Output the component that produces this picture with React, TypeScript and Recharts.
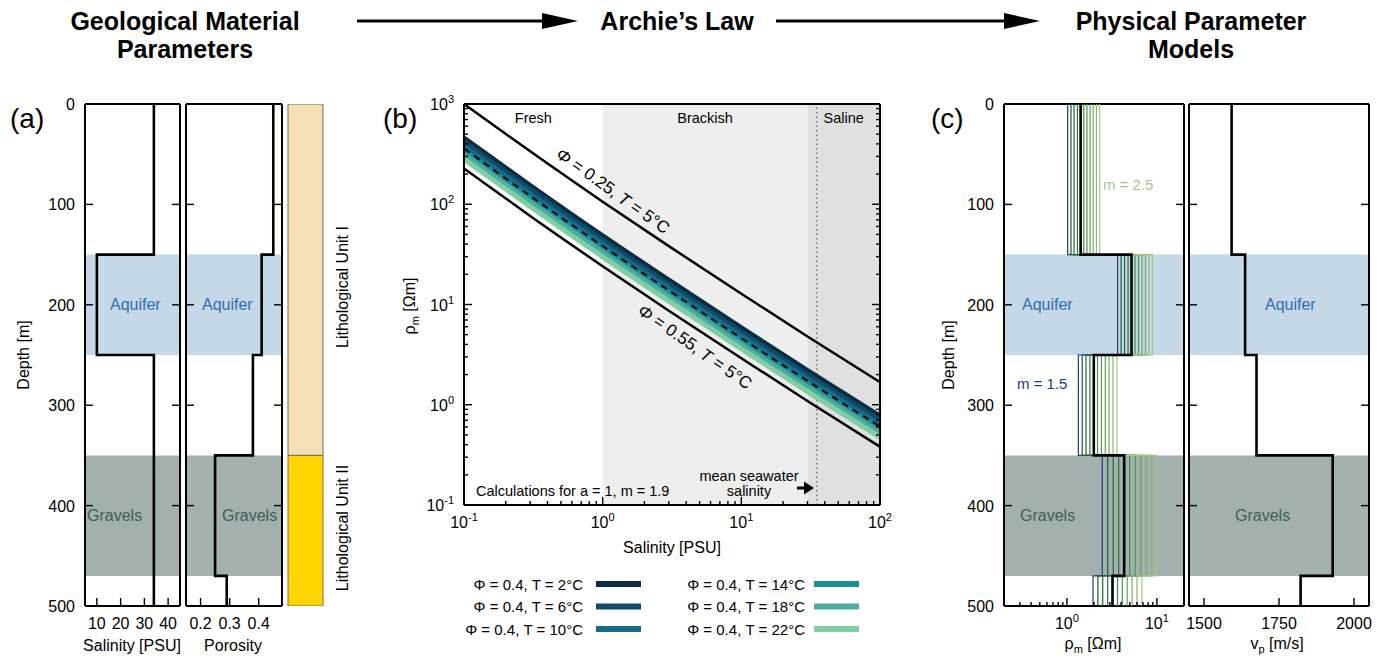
import React from 'react';
import {
  ScatterChart,
  Scatter,
  ComposedChart,
  Line,
  BarChart,
  Bar,
  XAxis,
  YAxis,
  ReferenceArea,
  ReferenceLine,
} from 'recharts';

const FONT = '"Liberation Sans", Arial, Helvetica, sans-serif';
const PAGE_W = 1383;
const PAGE_H = 660;

// ---------------- Layer model (panels a and c) ----------------
const layerTop = [0, 150, 250, 350, 470];
const layerBottom = [150, 250, 350, 470, 500];
const salinityPSU = [34, 10, 34, 34, 34];
const porosity = [0.45, 0.41, 0.38, 0.25, 0.29];
const vpMs = [1592, 1637, 1675, 1929, 1822];

const depthTicks = [0, 100, 200, 300, 400, 500];
const salinityTicks = [10, 20, 30, 40];
const porosityTicks = [0.2, 0.3, 0.4];
const vpTicks = [1500, 1750, 2000];

const aquiferDepth = [150, 250];
const gravelsDepth = [350, 470];

const lithoUnits = ['Lithological Unit I', 'Lithological Unit II'];
const lithoThickness = [350, 150];
const lithoColors = ['#f5dfb5', '#ffd400'];

// ---------------- Panel (c): rho_m per layer for m = 1.5 ... 2.5 ----------------
const mValues = [1.5, 1.6, 1.7, 1.8, 1.9, 2.0, 2.1, 2.2, 2.3, 2.4, 2.5];
const rhoByM = [
  [1.02, 3.66, 1.34, 2.47, 1.95],
  [1.11, 4.0, 1.48, 2.84, 2.21],
  [1.2, 4.37, 1.63, 3.27, 2.5],
  [1.31, 4.78, 1.8, 3.76, 2.84],
  [1.42, 5.22, 1.99, 4.33, 3.21],
  [1.54, 5.71, 2.19, 4.98, 3.65],
  [1.67, 6.25, 2.42, 5.74, 4.13],
  [1.81, 6.83, 2.67, 6.6, 4.68],
  [1.96, 7.47, 2.94, 7.6, 5.3],
  [2.13, 8.17, 3.25, 8.75, 6.01],
  [2.31, 8.93, 3.59, 10.07, 6.81],
];
const mColors = [
  '#1d3c7c', '#1d5836', '#22643a', '#2a713e', '#347e43', '#428b49',
  '#519751', '#63a35a', '#76ae64', '#8bba70', '#a3c97f',
];
const referenceM = 1.9;

// ---------------- Panel (b): Archie's law ----------------
const salinityGrid = [0.1, 0.3, 1, 3, 10, 30, 100];
const rhoPhi025T5 = [1000, 337, 106, 38.2, 12.8, 4.8, 1.68];
const rhoPhi055T5 = [227, 76.5, 24.1, 8.67, 2.91, 1.09, 0.381];
const rhoPhi04Ref = [360, 121, 38.2, 13.8, 4.61, 1.73, 0.605];
const tempsC = [2, 6, 10, 14, 18, 22];
const rhoPhi04ByT = [
  [457, 154, 48.4, 17.5, 5.85, 2.19, 0.768],
  [415, 140, 44.0, 15.9, 5.31, 1.99, 0.697],
  [377, 127, 40.0, 14.4, 4.83, 1.81, 0.633],
  [342, 115, 36.3, 13.1, 4.38, 1.64, 0.575],
  [311, 105, 33.0, 11.9, 3.98, 1.49, 0.522],
  [282, 95.0, 29.9, 10.8, 3.61, 1.35, 0.474],
];
const tempColors = ['#0c2c40', '#0e4c6c', '#166b88', '#1b8f9a', '#4aad9f', '#80cfa3'];

const classNames = ['Fresh', 'Brackish', 'Saline'];
const classFrom = [0.1, 1, 30];
const classTo = [1, 30, 100];
const classFill = ['none', '#eeeeee', '#e0e0e0'];
const seawaterPSU = 35;

// ---------------- Layout ----------------
type Rect = { x0: number; x1: number; y0: number; y1: number };
// axes are 1px thick boxes sitting just outside the plot rectangle
const axisMargins = (r: Rect) => ({
  left: r.x0 - 1,
  right: PAGE_W - r.x1 - 1,
  top: r.y0 - 1,
  bottom: PAGE_H - r.y1 - 1,
});
const plainMargins = (r: Rect) => ({ left: r.x0, right: PAGE_W - r.x1, top: r.y0, bottom: PAGE_H - r.y1 });

const plotSal: Rect = { x0: 85, x1: 180, y0: 104, y1: 606 };
const plotPor: Rect = { x0: 186, x1: 282, y0: 104, y1: 606 };
const plotLith: Rect = { x0: 288, x1: 323, y0: 104, y1: 606 };
const plotArchie: Rect = { x0: 464, x1: 880, y0: 104, y1: 505 };
const plotRho: Rect = { x0: 1004, x1: 1184, y0: 104, y1: 606 };
const plotVp: Rect = { x0: 1189, x1: 1369, y0: 104, y1: 606 };

const AXIS_LINE = { stroke: '#000', strokeWidth: 2 };
const AQUIFER_FILL = '#c4d8e8';
const GRAVEL_FILL = '#a2b0ae';
const AQUIFER_TEXT = '#2f6db0';
const GRAVEL_TEXT = '#3e5e58';

// ---------------- helpers ----------------
const logTicks = (lo: number, hi: number) => {
  const out: number[] = [];
  for (let e = Math.floor(Math.log10(lo)); e <= Math.ceil(Math.log10(hi)); e++) {
    for (let k = 1; k <= 9; k++) {
      const v = Number((k * Math.pow(10, e)).toPrecision(6));
      if (v >= lo - 1e-12 && v <= hi + 1e-12) out.push(v);
    }
  }
  return out;
};
const isMajor = (v: number) => Math.abs(Math.log10(v) - Math.round(Math.log10(v))) < 1e-9;
const pow10 = (v: number) => {
  const e = Math.round(Math.log10(v));
  return [
    <tspan key="b">10</tspan>,
    <tspan key="e" dy={-7} fontSize={11}>
      {String(e)}
    </tspan>,
  ];
};

type Side = 'bottom' | 'top' | 'left' | 'right';
type TickSpec = { side: Side; len: (v: number) => number; label?: (v: number) => React.ReactNode };

function makeTick(spec: TickSpec) {
  return function TickMark(props: any) {
    const x = Number(props.x);
    const y = Number(props.y);
    const v = Number(props.payload ? props.payload.value : 0);
    const L = spec.len(v);
    let x2 = x;
    let y2 = y;
    if (spec.side === 'bottom') y2 = y - L;
    else if (spec.side === 'top') y2 = y + L;
    else if (spec.side === 'left') x2 = x + L;
    else x2 = x - L;
    const lab = spec.label ? spec.label(v) : null;
    let text: React.ReactNode = null;
    if (lab !== null && lab !== undefined) {
      if (spec.side === 'bottom') {
        text = (
          <text x={x} y={y + 23} textAnchor="middle" fontFamily={FONT} fontSize={16} fill="#000">
            {lab}
          </text>
        );
      } else if (spec.side === 'left') {
        text = (
          <text x={x - 10} y={y + 6} textAnchor="end" fontFamily={FONT} fontSize={16} fill="#000">
            {lab}
          </text>
        );
      }
    }
    return (
      <g>
        {L > 0 ? <line x1={x} y1={y} x2={x2} y2={y2} stroke="#000" strokeWidth={1.4} /> : null}
        {text}
      </g>
    );
  };
}

const stepPoints = (values: number[]) => {
  const pts: { x: number; y: number }[] = [];
  values.forEach((v, i) => {
    pts.push({ x: v, y: layerTop[i] });
    pts.push({ x: v, y: layerBottom[i] });
  });
  return pts;
};

const NoShape = () => <g />;

type Band = { from: number; to: number; fill: string; label: string; color: string; offset: number };
type Profile = { key: string; values: number[]; color: string; width: number };

const AXIS_COMMON = {
  allowDataOverflow: true,
  interval: 0 as const,
  tickSize: 0,
  tickMargin: 0,
  tickLine: false,
  axisLine: AXIS_LINE,
};

function DepthProfile(props: {
  rect: Rect;
  xDomain: [number, number];
  logX?: boolean;
  xTicks: number[];
  xLen: (v: number) => number;
  xLabel: (v: number) => React.ReactNode;
  depthLabels: boolean;
  bands: Band[];
  profiles: Profile[];
}) {
  const { rect, xDomain, logX, xTicks, xLen, xLabel, depthLabels, bands, profiles } = props;
  const scale = logX ? 'log' : 'linear';
  const depthLen = (v: number) => (v > 0 && v < 500 ? 8 : 0);
  return (
    <div style={{ position: 'absolute', left: 0, top: 0 }}>
      <ScatterChart width={PAGE_W} height={PAGE_H} margin={axisMargins(rect)}>
        <XAxis
          xAxisId="b"
          type="number"
          dataKey="x"
          orientation="bottom"
          height={1}
          domain={xDomain}
          scale={scale}
          ticks={xTicks}
          {...AXIS_COMMON}
          tick={makeTick({ side: 'bottom', len: xLen, label: xLabel })}
        />
        <XAxis
          xAxisId="t"
          type="number"
          orientation="top"
          height={1}
          domain={xDomain}
          scale={scale}
          ticks={xTicks}
          {...AXIS_COMMON}
          tick={makeTick({ side: 'top', len: xLen })}
        />
        <YAxis
          yAxisId="l"
          type="number"
          dataKey="y"
          width={1}
          domain={[0, 500]}
          reversed
          ticks={depthTicks}
          {...AXIS_COMMON}
          tick={makeTick({ side: 'left', len: depthLen, label: depthLabels ? (v) => String(v) : undefined })}
        />
        <YAxis
          yAxisId="r"
          type="number"
          orientation="right"
          width={1}
          domain={[0, 500]}
          reversed
          ticks={depthTicks}
          {...AXIS_COMMON}
          tick={makeTick({ side: 'right', len: depthLen })}
        />
        {bands.map((b) => (
          <ReferenceArea
            key={b.label}
            xAxisId="b"
            yAxisId="l"
            y1={b.from}
            y2={b.to}
            fill={b.fill}
            fillOpacity={1}
            stroke="none"
            label={{
              value: b.label,
              position: 'insideLeft',
              offset: b.offset,
              fill: b.color,
              fontSize: 16,
              fontFamily: FONT,
            }}
          />
        ))}
        {profiles.map((p) => (
          <Scatter
            key={p.key}
            xAxisId="b"
            yAxisId="l"
            data={stepPoints(p.values)}
            fill="none"
            stroke={p.color}
            line={{ stroke: p.color, strokeWidth: p.width }}
            shape={NoShape}
            isAnimationActive={false}
          />
        ))}
      </ScatterChart>
    </div>
  );
}

function LithologyColumn() {
  const row = [{ unit: 'column', u1: lithoThickness[0], u2: lithoThickness[1] }];
  return (
    <div style={{ position: 'absolute', left: 0, top: 0 }}>
      <BarChart width={PAGE_W} height={PAGE_H} margin={plainMargins(plotLith)} data={row} barCategoryGap={0} barGap={0}>
        <XAxis dataKey="unit" type="category" hide height={0} />
        <YAxis type="number" domain={[0, 500]} reversed hide width={0} allowDataOverflow />
        <Bar dataKey="u1" name={lithoUnits[0]} stackId="l" fill={lithoColors[0]} stroke="#7a6d4c" strokeWidth={1} isAnimationActive={false} />
        <Bar dataKey="u2" name={lithoUnits[1]} stackId="l" fill={lithoColors[1]} stroke="#7a6d4c" strokeWidth={1} isAnimationActive={false} />
      </BarChart>
    </div>
  );
}

function ArchieChart() {
  const rows = salinityGrid.map((s, i) => {
    const r: Record<string, number> = {
      s,
      phi025: rhoPhi025T5[i],
      phi055: rhoPhi055T5[i],
      ref: rhoPhi04Ref[i],
    };
    tempsC.forEach((t, j) => {
      r['t' + t] = rhoPhi04ByT[j][i];
    });
    return r;
  });
  const xTicks = logTicks(0.1, 100);
  const yTicks = logTicks(0.1, 1000);
  const len = (v: number) => (isMajor(v) ? 8 : 4);
  const lab = (v: number) => (isMajor(v) ? pow10(v) : null);
  return (
    <div style={{ position: 'absolute', left: 0, top: 0 }}>
      <ComposedChart width={PAGE_W} height={PAGE_H} margin={axisMargins(plotArchie)} data={rows}>
        <XAxis
          xAxisId="b"
          type="number"
          dataKey="s"
          orientation="bottom"
          height={1}
          domain={[0.1, 100]}
          scale="log"
          ticks={xTicks}
          {...AXIS_COMMON}
          tick={makeTick({ side: 'bottom', len, label: lab })}
        />
        <XAxis
          xAxisId="t"
          type="number"
          orientation="top"
          height={1}
          domain={[0.1, 100]}
          scale="log"
          ticks={xTicks}
          {...AXIS_COMMON}
          tick={makeTick({ side: 'top', len })}
        />
        <YAxis
          yAxisId="l"
          type="number"
          width={1}
          domain={[0.1, 1000]}
          scale="log"
          ticks={yTicks}
          {...AXIS_COMMON}
          tick={makeTick({ side: 'left', len, label: lab })}
        />
        <YAxis
          yAxisId="r"
          type="number"
          orientation="right"
          width={1}
          domain={[0.1, 1000]}
          scale="log"
          ticks={yTicks}
          {...AXIS_COMMON}
          tick={makeTick({ side: 'right', len })}
        />
        {classNames.map((n, i) => (
          <ReferenceArea
            key={n}
            xAxisId="b"
            yAxisId="l"
            x1={classFrom[i]}
            x2={classTo[i]}
            y1={0.1}
            y2={1000}
            fill={classFill[i]}
            fillOpacity={classFill[i] === 'none' ? 0 : 1}
            stroke="none"
            label={{ value: n, position: 'insideTop', offset: 9, fill: '#000', fontSize: 14.5, fontFamily: FONT }}
          />
        ))}
        <ReferenceLine
          xAxisId="b"
          yAxisId="l"
          x={seawaterPSU}
          stroke="#666"
          strokeWidth={1.3}
          strokeDasharray="1.5 3"
        />
        {tempsC.map((t, j) => (
          <Line
            key={t}
            xAxisId="b"
            yAxisId="l"
            dataKey={'t' + t}
            name={`Φ = 0.4, T = ${t}°C`}
            type="monotone"
            stroke={tempColors[j]}
            strokeWidth={5}
            dot={false}
            activeDot={false}
            isAnimationActive={false}
          />
        ))}
        <Line xAxisId="b" yAxisId="l" dataKey="ref" type="monotone" stroke="#000" strokeWidth={2} strokeDasharray="7 5" dot={false} activeDot={false} isAnimationActive={false} />
        <Line xAxisId="b" yAxisId="l" dataKey="phi025" type="monotone" stroke="#000" strokeWidth={2.5} dot={false} activeDot={false} isAnimationActive={false} />
        <Line xAxisId="b" yAxisId="l" dataKey="phi055" type="monotone" stroke="#000" strokeWidth={2.5} dot={false} activeDot={false} isAnimationActive={false} />
      </ComposedChart>
    </div>
  );
}

function Overlay() {
  const common = { fontFamily: FONT, fill: '#000' };
  const title = { fontFamily: FONT, fontWeight: 700, fontSize: 25, fill: '#000', textAnchor: 'middle' as const };
  const arrow = (x0: number, x1: number, y: number) => (
    <g>
      <line x1={x0} y1={y} x2={x1 - 34} y2={y} stroke="#000" strokeWidth={3} />
      <polygon points={`${x1},${y} ${x1 - 36},${y - 8} ${x1 - 36},${y + 8}`} fill="#000" />
    </g>
  );
  const legendRows = [584, 606.5, 629];
  return (
    <svg
      width={PAGE_W}
      height={PAGE_H}
      style={{ position: 'absolute', left: 0, top: 0, pointerEvents: 'none' }}
    >
      {/* titles */}
      <text x={185} y={30} {...title}>Geological Material</text>
      <text x={185} y={58} {...title}>Parameters</text>
      <text x={677} y={30} {...title}>Archie’s Law</text>
      <text x={1191} y={30} {...title}>Physical Parameter</text>
      <text x={1191} y={58} {...title}>Models</text>
      {arrow(357, 578, 21)}
      {arrow(776, 1040, 21)}

      {/* panel labels */}
      <text x={10} y={128} fontSize={28} {...common}>(a)</text>
      <text x={383} y={128} fontSize={28} {...common}>(b)</text>
      <text x={931} y={128} fontSize={28} {...common}>(c)</text>

      {/* panel a axis titles */}
      <text x={29} y={355} fontSize={16} textAnchor="middle" transform="rotate(-90 29 355)" {...common}>Depth [m]</text>
      <text x={132} y={651} fontSize={16} textAnchor="middle" {...common}>Salinity [PSU]</text>
      <text x={233} y={651} fontSize={16} textAnchor="middle" {...common}>Porosity</text>
      <text x={348} y={287} fontSize={16} textAnchor="middle" transform="rotate(-90 348 287)" {...common}>{lithoUnits[0]}</text>
      <text x={348} y={528} fontSize={16} textAnchor="middle" transform="rotate(-90 348 528)" {...common}>{lithoUnits[1]}</text>

      {/* panel b annotations */}
      <text x={415} y={306} fontSize={16} textAnchor="middle" transform="rotate(-90 415 306)" {...common}>
        ρ<tspan dy={4} fontSize={11}>m</tspan>
        <tspan dy={-4}> [Ωm]</tspan>
      </text>
      <text x={672} y={553} fontSize={16} textAnchor="middle" {...common}>Salinity [PSU]</text>
      <text x={613} y={191} fontSize={17} textAnchor="middle" dominantBaseline="central" transform="rotate(35.5 613 191)" {...common}>
        <tspan fontStyle="italic">Φ</tspan> = 0.25, <tspan fontStyle="italic">T</tspan> = 5°C
      </text>
      <text x={695} y={347} fontSize={17} textAnchor="middle" dominantBaseline="central" transform="rotate(35 695 347)" {...common}>
        <tspan fontStyle="italic">Φ</tspan> = 0.55, <tspan fontStyle="italic">T</tspan> = 5°C
      </text>
      <text x={476} y={496} fontSize={14.5} {...common}>Calculations for a = 1, m = {referenceM}</text>
      <text x={749} y={481} fontSize={14.5} textAnchor="middle" {...common}>mean seawater</text>
      <text x={749} y={496} fontSize={14.5} textAnchor="middle" {...common}>salinity</text>
      <line x1={797} y1={488} x2={806} y2={488} stroke="#000" strokeWidth={3} />
      <polygon points="814,488 804,481.5 804,494.5" fill="#000" />

      {/* panel b legend */}
      {tempsC.map((t, j) => {
        const col = j < 3 ? 0 : 1;
        const rowY = legendRows[j % 3];
        const textX = col === 0 ? 583 : 805;
        const barX = col === 0 ? 596 : 814;
        return (
          <g key={t}>
            <text x={textX} y={rowY + 5.5} fontSize={15} textAnchor="end" {...common}>
              Φ = 0.4, T = {t}°C
            </text>
            <rect x={barX} y={rowY - 3} width={45} height={6} fill={tempColors[j]} />
          </g>
        );
      })}

      {/* panel c annotations */}
      <text x={954} y={355} fontSize={16} textAnchor="middle" transform="rotate(-90 954 355)" {...common}>Depth [m]</text>
      <text x={1093} y={649} fontSize={16} textAnchor="middle" {...common}>
        ρ<tspan dy={4} fontSize={11}>m</tspan>
        <tspan dy={-4}> [Ωm]</tspan>
      </text>
      <text x={1277} y={649} fontSize={16} textAnchor="middle" {...common}>
        v<tspan dy={4} fontSize={11}>p</tspan>
        <tspan dy={-4}> [m/s]</tspan>
      </text>
      <text x={1103} y={190} fontSize={15} fontFamily={FONT} fill={mColors[mColors.length - 1]}>
        m = {mValues[mValues.length - 1]}
      </text>
      <text x={1017} y={389} fontSize={15} fontFamily={FONT} fill={mColors[0]}>
        m = {mValues[0]}
      </text>
    </svg>
  );
}

export default function App() {
  const aquiferBand = (offset: number): Band => ({
    from: aquiferDepth[0],
    to: aquiferDepth[1],
    fill: AQUIFER_FILL,
    label: 'Aquifer',
    color: AQUIFER_TEXT,
    offset,
  });
  const gravelBand = (offset: number): Band => ({
    from: gravelsDepth[0],
    to: gravelsDepth[1],
    fill: GRAVEL_FILL,
    label: 'Gravels',
    color: GRAVEL_TEXT,
    offset,
  });
  const rhoTicks = logTicks(0.2, 20).filter((v) => v > 0.2 && v < 20);
  const refIndex = mValues.indexOf(referenceM);
  const rhoProfiles: Profile[] = rhoByM.map((vals, k) => ({
    key: 'm' + mValues[k],
    values: vals,
    color: mColors[k],
    width: 1.2,
  }));
  rhoProfiles.push({ key: 'mref', values: rhoByM[refIndex], color: '#000', width: 2.6 });

  return (
    <div
      style={{
        position: 'absolute',
        left: 0,
        top: 0,
        width: PAGE_W,
        height: PAGE_H,
        background: '#fff',
        overflow: 'hidden',
        fontFamily: FONT,
      }}
    >
      <DepthProfile
        rect={plotSal}
        xDomain={[5, 45]}
        xTicks={salinityTicks}
        xLen={() => 8}
        xLabel={(v) => String(v)}
        depthLabels
        bands={[aquiferBand(25), gravelBand(2)]}
        profiles={[{ key: 'sal', values: salinityPSU, color: '#000', width: 2.6 }]}
      />
      <DepthProfile
        rect={plotPor}
        xDomain={[0.15, 0.48]}
        xTicks={porosityTicks}
        xLen={() => 8}
        xLabel={(v) => v.toFixed(1)}
        depthLabels={false}
        bands={[aquiferBand(16), gravelBand(36)]}
        profiles={[{ key: 'por', values: porosity, color: '#000', width: 2.6 }]}
      />
      <LithologyColumn />
      <ArchieChart />
      <DepthProfile
        rect={plotRho}
        xDomain={[0.2, 20]}
        logX
        xTicks={rhoTicks}
        xLen={(v) => (isMajor(v) ? 8 : 4)}
        xLabel={(v) => (isMajor(v) ? pow10(v) : null)}
        depthLabels
        bands={[aquiferBand(18), gravelBand(16)]}
        profiles={rhoProfiles}
      />
      <DepthProfile
        rect={plotVp}
        xDomain={[1450, 2050]}
        xTicks={vpTicks}
        xLen={() => 8}
        xLabel={(v) => String(v)}
        depthLabels={false}
        bands={[aquiferBand(76), gravelBand(46)]}
        profiles={[{ key: 'vp', values: vpMs, color: '#000', width: 2.6 }]}
      />
      <Overlay />
    </div>
  );
}
